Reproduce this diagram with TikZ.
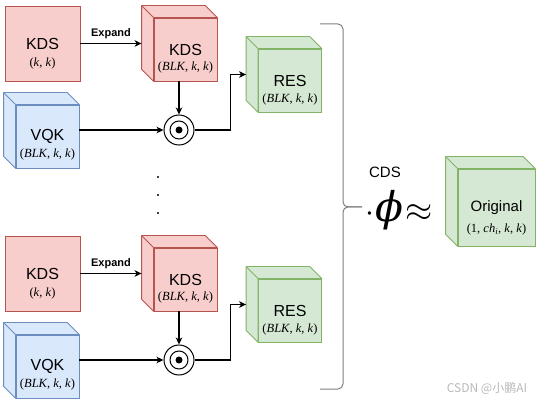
\RequirePackage{fix-cm}
\documentclass[tikz,border=0pt]{standalone}
\usepackage[no-math]{fontspec}
\setmainfont{Liberation Sans}
\newfontfamily\tms{Liberation Serif}
\newfontfamily\dvs{DejaVu Serif}
\newfontfamily\cjk{Noto Sans CJK SC}
\usetikzlibrary{arrows.meta}

\definecolor{redfill}{HTML}{F8CECC}
\definecolor{redline}{HTML}{B85450}
\definecolor{bluefill}{HTML}{DAE8FC}
\definecolor{blueline}{HTML}{6C8EBF}
\definecolor{greenfill}{HTML}{D5E8D4}
\definecolor{greenline}{HTML}{82B366}
\definecolor{bracegray}{HTML}{808080}

% depth of the cube faces
\newcommand{\cd}{12pt}
% top and left faces behind a front face node
\newcommand{\cubefaces}[3]{%
  \draw[fill=#2, draw=#3, line width=0.8pt, line join=round]
    (#1.north east) -- ++(-\cd,\cd) -- ([shift={(-\cd,\cd)}]#1.north west)
    -- ([shift={(-\cd,\cd)}]#1.south west) -- (#1.south west) -- (#1.north west) -- cycle;
  \draw[#3, line width=0.8pt] (#1.north west) -- ++(-\cd,\cd);
  \coordinate (#1w) at ([shift={(-\cd,6pt)}]#1.west);
}
% shape tuple
\newcommand{\blkkk}{(\textit{BLK}, \textit{k}, \textit{k})}

\begin{document}
\begin{tikzpicture}[x=1pt, y=1pt,
  box/.style={draw=#1line, fill=#1fill, line width=0.8pt, minimum size=63pt, inner sep=0pt, font=\fontsize{16}{18}\selectfont},
  dim/.style={font=\tms\fontsize{12.5}{14}\selectfont, inner sep=0pt},
  arr/.style={line width=1.3pt, -{Stealth[length=7pt, width=6.5pt, inset=2pt]}},
  odot/.style={circle, draw, line width=1pt, minimum size=30pt, inner sep=0pt}]
\useasboundingbox (0,0) rectangle (547,405);

% first row
\node[box=red, minimum size=75pt, label={[dim, yshift=-19.5pt]center:(\textit{k}, \textit{k})}] (kds1) at (42.5,361.5) {KDS};
\node[box=red, label={[dim, yshift=-18pt]center:\blkkk}] (kdsx1) at (185.5,355.5) {KDS};
\cubefaces{kdsx1}{redfill}{redline}
\node[box=blue, label={[dim, yshift=-18pt]center:\blkkk}] (vqk1) at (47.5,268.5) {VQK};
\cubefaces{vqk1}{bluefill}{blueline}
\node[odot] (dot1) at (179,275) {};
\draw[line width=1pt] (dot1.center) circle (9pt);
\fill (dot1.center) circle (3.5pt);
\node[box=green, label={[dim, yshift=-18.5pt]center:\blkkk}] (res1) at (290,324.5) {RES};
\cubefaces{res1}{greenfill}{greenline}

\draw[arr] (kds1.east) -- (kds1.east -| kdsx1w) node[midway, above=1pt, font=\bfseries\fontsize{11}{13}\selectfont] {Expand};
\draw[arr] (kdsx1.south -| dot1) -- (dot1.north);
\draw[arr] (vqk1.east |- dot1) -- (dot1.west);
\draw[arr] (dot1.east) -- ++(36,0) |- (res1w);

% dots between the rows
\foreach \y in {228,210,192}
  \fill (158,\y) circle (1.2pt);

% second row
\node[box=red, minimum size=75pt, label={[dim, yshift=-19.5pt]center:(\textit{k}, \textit{k})}] (kds2) at (42.5,131.5) {KDS};
\node[box=red, label={[dim, yshift=-18pt]center:\blkkk}] (kdsx2) at (185.5,125.5) {KDS};
\cubefaces{kdsx2}{redfill}{redline}
\node[box=blue, label={[dim, yshift=-18pt]center:\blkkk}] (vqk2) at (47.5,38.5) {VQK};
\cubefaces{vqk2}{bluefill}{blueline}
\node[odot] (dot2) at (179,45) {};
\draw[line width=1pt] (dot2.center) circle (9pt);
\fill (dot2.center) circle (3.5pt);
\node[box=green, label={[dim, yshift=-18.5pt]center:\blkkk}] (res2) at (290,94.5) {RES};
\cubefaces{res2}{greenfill}{greenline}

\draw[arr] (kds2.east) -- (kds2.east -| kdsx2w) node[midway, above=1pt, font=\bfseries\fontsize{11}{13}\selectfont] {Expand};
\draw[arr] (kdsx2.south -| dot2) -- (dot2.north);
\draw[arr] (vqk2.east |- dot2) -- (dot2.west);
\draw[arr] (dot2.east) -- ++(36,0) |- (res2w);

% brace
\draw[bracegray, line width=1pt, rounded corners=5pt] (320,381) -- (343,381) -- (343,198) -- (362,198);
\draw[bracegray, line width=1pt, rounded corners=5pt] (320,16) -- (343,16) -- (343,198) -- (362,198);

% right side
\node[font=\fontsize{15}{17}\selectfont] (cds) at (385,232.5) {CDS};
\node[inner sep=0pt] (phi) at (399,195) {{\fontsize{32}{36}\selectfont$\cdot$}\kern1pt{\dvs\itshape\fontsize{41}{44}\selectfont ϕ}\kern2pt{\fontsize{35}{38}\selectfont$\approx$}};
\node[box=green, minimum size=77pt, font=\fontsize{15}{17}\selectfont, label={[dim, yshift=-22pt]center:(1, \textit{ch}\textsubscript{\textit{i}}, \textit{k}, \textit{k})}] (orig) at (496.5,197.5) {Original};
\cubefaces{orig}{greenfill}{greenline}

\node[font=\cjk\fontsize{12}{14}\selectfont, text=gray!55] (mark) at (487,16) {CSDN @小鹏AI};
\end{tikzpicture}
\end{document}
